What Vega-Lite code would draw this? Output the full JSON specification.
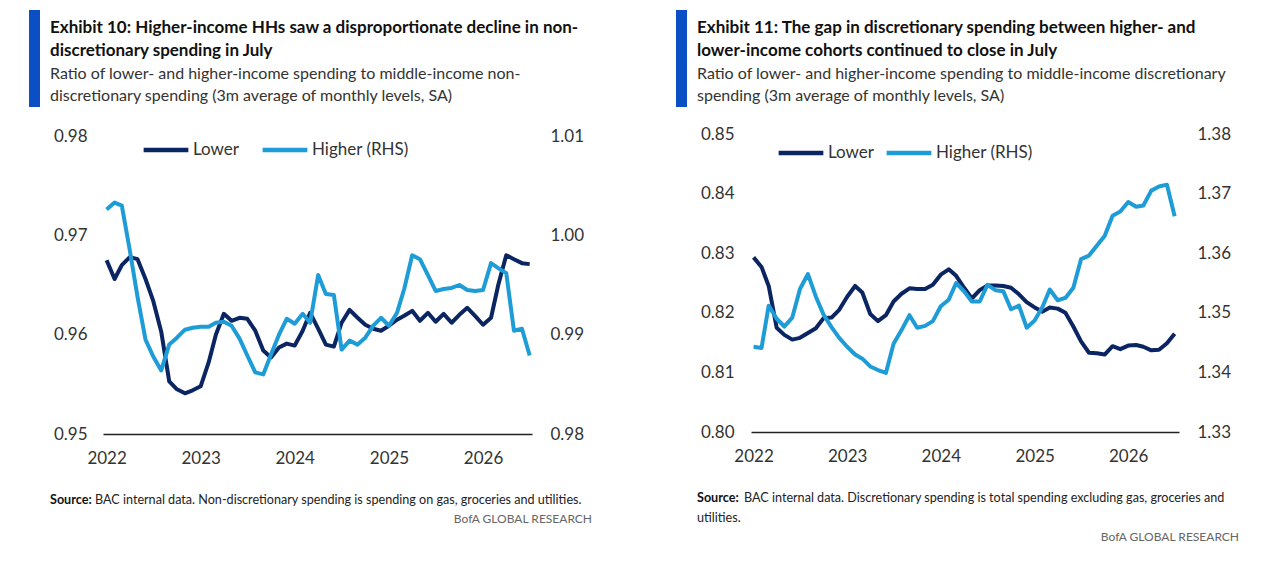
{
  "$schema": "https://vega.github.io/schema/vega-lite/v6.json",
  "background": "white",
  "padding": {"left": 29, "top": 10, "right": 5, "bottom": 5},
  "config": {
    "font": "Lato",
    "view": {"stroke": null},
    "title": {"anchor": "start", "frame": "group", "color": "#111", "offset": 0, "font": "Lato", "subtitleFont": "Lato"},
    "axis": {"grid": false, "ticks": false, "title": null, "labelFont": "Lato", "labelFontSize": 17, "labelColor": "#333"},
    "legend": {"labelFont": "Lato"}
  },
  "datasets": {
    "nondisc": [
      {"m": "2022-01-01", "lo": 0.9675, "hi": 1.0026},
      {"m": "2022-02-01", "lo": 0.9656, "hi": 1.0033},
      {"m": "2022-03-01", "lo": 0.9670, "hi": 1.0030},
      {"m": "2022-04-01", "lo": 0.9678, "hi": 0.9985},
      {"m": "2022-05-01", "lo": 0.9676, "hi": 0.9938},
      {"m": "2022-06-01", "lo": 0.9656, "hi": 0.9895},
      {"m": "2022-07-01", "lo": 0.9634, "hi": 0.9878},
      {"m": "2022-08-01", "lo": 0.9603, "hi": 0.9864},
      {"m": "2022-09-01", "lo": 0.9553, "hi": 0.9890},
      {"m": "2022-10-01", "lo": 0.9545, "hi": 0.9897},
      {"m": "2022-11-01", "lo": 0.9541, "hi": 0.9905},
      {"m": "2022-12-01", "lo": 0.9544, "hi": 0.9907},
      {"m": "2023-01-01", "lo": 0.9548, "hi": 0.9908},
      {"m": "2023-02-01", "lo": 0.9572, "hi": 0.9908},
      {"m": "2023-03-01", "lo": 0.9600, "hi": 0.9912},
      {"m": "2023-04-01", "lo": 0.9621, "hi": 0.9913},
      {"m": "2023-05-01", "lo": 0.9614, "hi": 0.9909},
      {"m": "2023-06-01", "lo": 0.9617, "hi": 0.9896},
      {"m": "2023-07-01", "lo": 0.9616, "hi": 0.9879},
      {"m": "2023-08-01", "lo": 0.9604, "hi": 0.9862},
      {"m": "2023-09-01", "lo": 0.9584, "hi": 0.9860},
      {"m": "2023-10-01", "lo": 0.9577, "hi": 0.9880},
      {"m": "2023-11-01", "lo": 0.9587, "hi": 0.9900},
      {"m": "2023-12-01", "lo": 0.9591, "hi": 0.9916},
      {"m": "2024-01-01", "lo": 0.9589, "hi": 0.9911},
      {"m": "2024-02-01", "lo": 0.9604, "hi": 0.9921},
      {"m": "2024-03-01", "lo": 0.9622, "hi": 0.9912},
      {"m": "2024-04-01", "lo": 0.9606, "hi": 0.9960},
      {"m": "2024-05-01", "lo": 0.9590, "hi": 0.9941},
      {"m": "2024-06-01", "lo": 0.9588, "hi": 0.9940},
      {"m": "2024-07-01", "lo": 0.9612, "hi": 0.9885},
      {"m": "2024-08-01", "lo": 0.9625, "hi": 0.9894},
      {"m": "2024-09-01", "lo": 0.9617, "hi": 0.9890},
      {"m": "2024-10-01", "lo": 0.9610, "hi": 0.9897},
      {"m": "2024-11-01", "lo": 0.9606, "hi": 0.9909},
      {"m": "2024-12-01", "lo": 0.9604, "hi": 0.9917},
      {"m": "2025-01-01", "lo": 0.9609, "hi": 0.9909},
      {"m": "2025-02-01", "lo": 0.9615, "hi": 0.9922},
      {"m": "2025-03-01", "lo": 0.9619, "hi": 0.9946},
      {"m": "2025-04-01", "lo": 0.9624, "hi": 0.9980},
      {"m": "2025-05-01", "lo": 0.9614, "hi": 0.9976},
      {"m": "2025-06-01", "lo": 0.9622, "hi": 0.9960},
      {"m": "2025-07-01", "lo": 0.9613, "hi": 0.9944},
      {"m": "2025-08-01", "lo": 0.9621, "hi": 0.9946},
      {"m": "2025-09-01", "lo": 0.9612, "hi": 0.9947},
      {"m": "2025-10-01", "lo": 0.9620, "hi": 0.9950},
      {"m": "2025-11-01", "lo": 0.9627, "hi": 0.9945},
      {"m": "2025-12-01", "lo": 0.9619, "hi": 0.9944},
      {"m": "2026-01-01", "lo": 0.9610, "hi": 0.9945},
      {"m": "2026-02-01", "lo": 0.9617, "hi": 0.9972},
      {"m": "2026-03-01", "lo": 0.9650, "hi": 0.9967},
      {"m": "2026-04-01", "lo": 0.9680, "hi": 0.9962},
      {"m": "2026-05-01", "lo": 0.9676, "hi": 0.9904},
      {"m": "2026-06-01", "lo": 0.9672, "hi": 0.9906},
      {"m": "2026-07-01", "lo": 0.9671, "hi": 0.9879}
    ],
    "disc": [
      {"m": "2022-01-01", "lo": 0.8293, "hi": 1.3443},
      {"m": "2022-02-01", "lo": 0.8277, "hi": 1.3441},
      {"m": "2022-03-01", "lo": 0.8245, "hi": 1.3512},
      {"m": "2022-04-01", "lo": 0.8175, "hi": 1.3490},
      {"m": "2022-05-01", "lo": 0.8163, "hi": 1.3477},
      {"m": "2022-06-01", "lo": 0.8155, "hi": 1.3492},
      {"m": "2022-07-01", "lo": 0.8158, "hi": 1.3540},
      {"m": "2022-08-01", "lo": 0.8166, "hi": 1.3565},
      {"m": "2022-09-01", "lo": 0.8174, "hi": 1.3527},
      {"m": "2022-10-01", "lo": 0.8191, "hi": 1.3497},
      {"m": "2022-11-01", "lo": 0.8192, "hi": 1.3476},
      {"m": "2022-12-01", "lo": 0.8205, "hi": 1.3458},
      {"m": "2023-01-01", "lo": 0.8227, "hi": 1.3443},
      {"m": "2023-02-01", "lo": 0.8245, "hi": 1.3430},
      {"m": "2023-03-01", "lo": 0.8234, "hi": 1.3423},
      {"m": "2023-04-01", "lo": 0.8198, "hi": 1.3410},
      {"m": "2023-05-01", "lo": 0.8186, "hi": 1.3404},
      {"m": "2023-06-01", "lo": 0.8196, "hi": 1.3399},
      {"m": "2023-07-01", "lo": 0.8219, "hi": 1.3448},
      {"m": "2023-08-01", "lo": 0.8232, "hi": 1.3471},
      {"m": "2023-09-01", "lo": 0.8241, "hi": 1.3496},
      {"m": "2023-10-01", "lo": 0.8240, "hi": 1.3475},
      {"m": "2023-11-01", "lo": 0.8240, "hi": 1.3478},
      {"m": "2023-12-01", "lo": 0.8247, "hi": 1.3486},
      {"m": "2024-01-01", "lo": 0.8264, "hi": 1.3511},
      {"m": "2024-02-01", "lo": 0.8273, "hi": 1.3522},
      {"m": "2024-03-01", "lo": 0.8262, "hi": 1.3550},
      {"m": "2024-04-01", "lo": 0.8242, "hi": 1.3536},
      {"m": "2024-05-01", "lo": 0.8224, "hi": 1.3519},
      {"m": "2024-06-01", "lo": 0.8238, "hi": 1.3519},
      {"m": "2024-07-01", "lo": 0.8246, "hi": 1.3547},
      {"m": "2024-08-01", "lo": 0.8246, "hi": 1.3538},
      {"m": "2024-09-01", "lo": 0.8245, "hi": 1.3536},
      {"m": "2024-10-01", "lo": 0.8242, "hi": 1.3506},
      {"m": "2024-11-01", "lo": 0.8231, "hi": 1.3512},
      {"m": "2024-12-01", "lo": 0.8218, "hi": 1.3475},
      {"m": "2025-01-01", "lo": 0.8209, "hi": 1.3487},
      {"m": "2025-02-01", "lo": 0.8202, "hi": 1.3510},
      {"m": "2025-03-01", "lo": 0.8209, "hi": 1.3539},
      {"m": "2025-04-01", "lo": 0.8207, "hi": 1.3521},
      {"m": "2025-05-01", "lo": 0.8200, "hi": 1.3525},
      {"m": "2025-06-01", "lo": 0.8177, "hi": 1.3542},
      {"m": "2025-07-01", "lo": 0.8152, "hi": 1.3590},
      {"m": "2025-08-01", "lo": 0.8133, "hi": 1.3596},
      {"m": "2025-09-01", "lo": 0.8132, "hi": 1.3613},
      {"m": "2025-10-01", "lo": 0.8130, "hi": 1.3629},
      {"m": "2025-11-01", "lo": 0.8144, "hi": 1.3663},
      {"m": "2025-12-01", "lo": 0.8139, "hi": 1.3670},
      {"m": "2026-01-01", "lo": 0.8145, "hi": 1.3686},
      {"m": "2026-02-01", "lo": 0.8146, "hi": 1.3678},
      {"m": "2026-03-01", "lo": 0.8143, "hi": 1.3680},
      {"m": "2026-04-01", "lo": 0.8137, "hi": 1.3705},
      {"m": "2026-05-01", "lo": 0.8138, "hi": 1.3712},
      {"m": "2026-06-01", "lo": 0.8149, "hi": 1.3715},
      {"m": "2026-07-01", "lo": 0.8165, "hi": 1.3662}
    ]
  },
  "resolve": {"scale": {"color": "independent"}, "legend": {"color": "independent"}},
  "spacing": 84,
  "hconcat": [
    {
      "resolve": {"scale": {"color": "independent"}, "legend": {"color": "independent"}},
      "spacing": 25,
      "vconcat": [
        {
          "resolve": {"scale": {"color": "independent"}, "legend": {"color": "independent"}},
          "spacing": 18,
          "vconcat": [
            {
              "spacing": 10,
              "hconcat": [
                {"width": 11, "height": 97, "data": {"values": []}, "mark": {"type": "point", "opacity": 0}, "encoding": {}, "view": {"fill": "#0a50c4", "stroke": null}},
                {
                  "width": 1, "height": 1, "data": {"values": []}, "mark": {"type": "point", "opacity": 0}, "encoding": {},
                  "title": {
                    "text": ["Exhibit 10: Higher-income HHs saw a disproportionate decline in non-", "discretionary spending in July"],
                    "subtitle": ["Ratio of lower- and higher-income spending to middle-income non-", "discretionary spending (3m average of monthly levels, SA)"],
                    "orient": "bottom", "baseline": "top", "offset": 9,
                    "fontSize": 17, "fontWeight": "bold", "lineHeight": 23,
                    "subtitleFontSize": 16, "subtitleColor": "#333", "subtitleLineHeight": 22, "subtitlePadding": 6
                  }
                }
              ]
            },
            {
              "resolve": {"scale": {"color": "independent"}, "legend": {"color": "independent"}},
              "spacing": 10,
              "hconcat": [
                {"width": 14, "height": 10, "data": {"values": []}, "mark": {"type": "point", "opacity": 0}, "encoding": {}},
                {
                  "width": 429,
                  "height": 298,
                  "data": {"name": "nondisc"},
                  "encoding": {
                    "x": {
                      "field": "m", "type": "temporal",
                      "scale": {"domain": [{"year": 2021, "month": 12, "date": 18}, {"year": 2026, "month": 7, "date": 10}]},
                      "axis": {"format": "%Y", "values": [{"year": 2022}, {"year": 2023}, {"year": 2024}, {"year": 2025}, {"year": 2026}], "labelFlush": false, "labelOverlap": false, "labelPadding": 16, "domainColor": "#222", "domainWidth": 1.5}
                    }
                  },
                  "layer": [
                    {
                      "mark": {"type": "line", "strokeWidth": 4, "strokeJoin": "round"},
                      "encoding": {
                        "y": {"field": "lo", "type": "quantitative", "scale": {"domain": [0.95, 0.98], "nice": false, "zero": false}, "axis": {"orient": "left", "values": [0.95, 0.96, 0.97, 0.98], "format": ".2f", "domain": false, "labelPadding": 16}},
                        "color": {
                          "datum": "Lower", "type": "nominal",
                          "scale": {"domain": ["Lower", "Higher (RHS)"], "range": ["#0b2462", "#1e9cd7"]},
                          "legend": {"title": null, "orient": "none", "legendX": 38, "legendY": -11, "direction": "horizontal", "columns": 2, "symbolType": "stroke", "symbolSize": 2000, "symbolStrokeWidth": 4.5, "labelFontSize": 17, "labelColor": "#333", "labelOffset": 2, "columnPadding": 13}
                        }
                      }
                    },
                    {
                      "mark": {"type": "line", "strokeWidth": 4, "strokeJoin": "round"},
                      "encoding": {
                        "y": {"field": "hi", "type": "quantitative", "scale": {"domain": [0.98, 1.01], "nice": false, "zero": false}, "axis": {"orient": "right", "values": [0.98, 0.99, 1.0, 1.01], "format": ".2f", "domain": false, "labelPadding": 18}},
                        "color": {"datum": "Higher (RHS)", "type": "nominal"}
                      }
                    }
                  ],
                  "resolve": {"scale": {"y": "independent"}}
                }
              ]
            }
          ]
        },
        {
          "spacing": 4,
          "vconcat": [
            {
              "spacing": 3,
              "hconcat": [
                {"width": 1, "height": 1, "data": {"values": []}, "mark": {"type": "point", "opacity": 0}, "encoding": {}, "title": {"text": "Source:", "orient": "bottom", "baseline": "top", "offset": 2, "dx": 21, "fontSize": 12.6, "fontWeight": "bold"}},
                {"width": 1, "height": 1, "data": {"values": []}, "mark": {"type": "point", "opacity": 0}, "encoding": {}, "title": {"text": "BAC internal data. Non-discretionary spending is spending on gas, groceries and utilities.", "orient": "bottom", "baseline": "top", "offset": 2, "fontSize": 12.6, "fontWeight": "normal", "color": "#222"}}
              ]
            },
            {"width": 563, "height": 1, "data": {"values": []}, "mark": {"type": "point", "opacity": 0}, "encoding": {}, "title": {"text": "BofA GLOBAL RESEARCH", "orient": "bottom", "baseline": "top", "offset": 2, "anchor": "end", "fontSize": 12, "fontWeight": "normal", "color": "#666"}}
          ]
        }
      ]
    },
    {
      "resolve": {"scale": {"color": "independent"}, "legend": {"color": "independent"}},
      "spacing": 25,
      "vconcat": [
        {
          "resolve": {"scale": {"color": "independent"}, "legend": {"color": "independent"}},
          "spacing": 18,
          "vconcat": [
            {
              "spacing": 10,
              "hconcat": [
                {"width": 11, "height": 97, "data": {"values": []}, "mark": {"type": "point", "opacity": 0}, "encoding": {}, "view": {"fill": "#0a50c4", "stroke": null}},
                {
                  "width": 1, "height": 1, "data": {"values": []}, "mark": {"type": "point", "opacity": 0}, "encoding": {},
                  "title": {
                    "text": ["Exhibit 11: The gap in discretionary spending between higher- and", "lower-income cohorts continued to close in July"],
                    "subtitle": ["Ratio of lower- and higher-income spending to middle-income discretionary", "spending (3m average of monthly levels, SA)"],
                    "orient": "bottom", "baseline": "top", "offset": 9,
                    "fontSize": 17, "fontWeight": "bold", "lineHeight": 23,
                    "subtitleFontSize": 16, "subtitleColor": "#333", "subtitleLineHeight": 22, "subtitlePadding": 6
                  }
                }
              ]
            },
            {
              "resolve": {"scale": {"color": "independent"}, "legend": {"color": "independent"}},
              "spacing": 10,
              "hconcat": [
                {"width": 14, "height": 10, "data": {"values": []}, "mark": {"type": "point", "opacity": 0}, "encoding": {}},
                {
                  "width": 428,
                  "height": 298,
                  "data": {"name": "disc"},
                  "encoding": {
                    "x": {
                      "field": "m", "type": "temporal",
                      "scale": {"domain": [{"year": 2021, "month": 12, "date": 22}, {"year": 2026, "month": 7, "date": 18}]},
                      "axis": {"format": "%Y", "values": [{"year": 2022}, {"year": 2023}, {"year": 2024}, {"year": 2025}, {"year": 2026}], "labelFlush": false, "labelOverlap": false, "labelPadding": 16, "domainColor": "#222", "domainWidth": 1.5}
                    }
                  },
                  "layer": [
                    {
                      "mark": {"type": "line", "strokeWidth": 4, "strokeJoin": "round"},
                      "encoding": {
                        "y": {"field": "lo", "type": "quantitative", "scale": {"domain": [0.8, 0.85], "nice": false, "zero": false}, "axis": {"orient": "left", "values": [0.8, 0.81, 0.82, 0.83, 0.84, 0.85], "format": ".2f", "domain": false, "labelPadding": 17}},
                        "color": {
                          "datum": "Lower", "type": "nominal",
                          "scale": {"domain": ["Lower", "Higher (RHS)"], "range": ["#0b2462", "#1e9cd7"]},
                          "legend": {"title": null, "orient": "none", "legendX": 25, "legendY": -6, "direction": "horizontal", "columns": 2, "symbolType": "stroke", "symbolSize": 2000, "symbolStrokeWidth": 4.5, "labelFontSize": 17, "labelColor": "#333", "labelOffset": 2, "columnPadding": 2}
                        }
                      }
                    },
                    {
                      "mark": {"type": "line", "strokeWidth": 4, "strokeJoin": "round"},
                      "encoding": {
                        "y": {"field": "hi", "type": "quantitative", "scale": {"domain": [1.33, 1.38], "nice": false, "zero": false}, "axis": {"orient": "right", "values": [1.33, 1.34, 1.35, 1.36, 1.37, 1.38], "format": ".2f", "domain": false, "labelPadding": 18}},
                        "color": {"datum": "Higher (RHS)", "type": "nominal"}
                      }
                    }
                  ],
                  "resolve": {"scale": {"y": "independent"}}
                }
              ]
            }
          ]
        },
        {
          "spacing": 4,
          "vconcat": [
            {
              "spacing": 3,
              "hconcat": [
                {"width": 1, "height": 1, "data": {"values": []}, "mark": {"type": "point", "opacity": 0}, "encoding": {}, "title": {"text": "Source:", "subtitle": "utilities.", "orient": "bottom", "baseline": "top", "offset": 2, "dx": 21, "fontSize": 12.6, "fontWeight": "bold", "subtitleFont": "Lato", "subtitleFontSize": 12.6, "subtitleColor": "#222", "subtitlePadding": 7}},
                {"width": 1, "height": 1, "data": {"values": []}, "mark": {"type": "point", "opacity": 0}, "encoding": {}, "title": {"text": "BAC internal data. Discretionary spending is total spending excluding gas, groceries and", "orient": "bottom", "baseline": "top", "offset": 2, "fontSize": 12.6, "fontWeight": "normal", "color": "#222"}}
              ]
            },
            {"width": 563, "height": 1, "data": {"values": []}, "mark": {"type": "point", "opacity": 0}, "encoding": {}, "title": {"text": "BofA GLOBAL RESEARCH", "orient": "bottom", "baseline": "top", "offset": 2, "anchor": "end", "fontSize": 12, "fontWeight": "normal", "color": "#666"}}
          ]
        }
      ]
    }
  ]
}
